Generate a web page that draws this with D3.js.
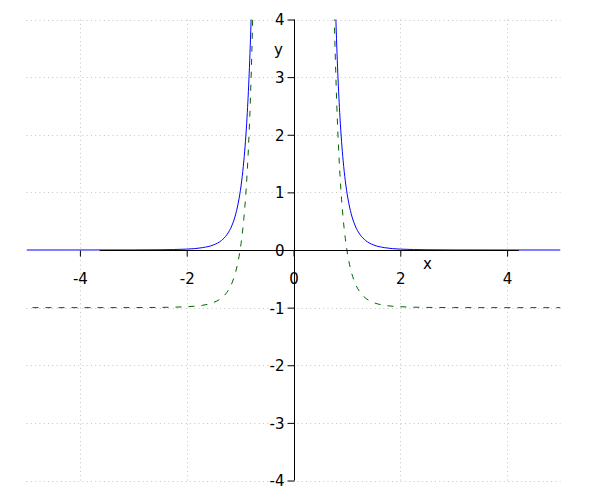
<!DOCTYPE html>
<html>
<head>
<meta charset="utf-8">
<script src="https://cdn.jsdelivr.net/npm/d3@7"></script>
<style>
  html, body { margin: 0; padding: 0; background: #fff; }
  svg { display: block; }
  text { font-family: "DejaVu Sans", sans-serif; font-size: 15px; fill: #000; }
</style>
</head>
<body>
<svg id="chart" width="600" height="500"></svg>
<script>
// ---- data ----
const xTicks = [-4, -2, 0, 2, 4];
const yTicks = [-4, -3, -2, -1, 0, 1, 2, 3, 4];
const xGrid = [-4, -2, 2, 4];
const yGrid = [-4, -3, -2, -1, 1, 2, 3, 4];

const blueLeftX  = [-5, -4, -3, -2.5, -2, -1.7, -1.5, -1.35, -1.25, -1.15, -1.08, -1.02, -0.97, -0.93, -0.9, -0.87, -0.85, -0.83, -0.81, -0.79, -0.78];
const blueLeftY  = [0, 0.0002, 0.0014, 0.0041, 0.0156, 0.0414, 0.0878, 0.165, 0.262, 0.432, 0.630, 0.888, 1.200, 1.546, 1.882, 2.306, 2.652, 3.059, 3.541, 4.114, 4.44];
const blueRightX = [0.78, 0.79, 0.81, 0.83, 0.85, 0.87, 0.9, 0.93, 0.97, 1.02, 1.08, 1.15, 1.25, 1.35, 1.5, 1.7, 2, 2.5, 3, 4, 5];
const blueRightY = [4.44, 4.114, 3.541, 3.059, 2.652, 2.306, 1.882, 1.546, 1.200, 0.888, 0.630, 0.432, 0.262, 0.165, 0.0878, 0.0414, 0.0156, 0.0041, 0.0014, 0.0002, 0];

const greenLeftX  = [-5, -4, -3, -2.5, -2, -1.7, -1.5, -1.35, -1.25, -1.15, -1.08, -1.02, -0.97, -0.93, -0.9, -0.87, -0.85, -0.83, -0.81, -0.79, -0.77, -0.76];
const greenLeftY  = [-1, -1, -0.999, -0.996, -0.984, -0.959, -0.912, -0.835, -0.738, -0.568, -0.370, -0.112, 0.200, 0.546, 0.882, 1.306, 1.652, 2.059, 2.541, 3.114, 3.80, 4.19];
const greenRightX = [0.76, 0.77, 0.79, 0.81, 0.83, 0.85, 0.87, 0.9, 0.93, 0.97, 1.02, 1.08, 1.15, 1.25, 1.35, 1.5, 1.7, 2, 2.5, 3, 4, 5];
const greenRightY = [4.19, 3.80, 3.114, 2.541, 2.059, 1.652, 1.306, 0.882, 0.546, 0.200, -0.112, -0.370, -0.568, -0.738, -0.835, -0.912, -0.959, -0.984, -0.996, -0.999, -1, -1];

const xAxisExtent = [-3.63, 4.22];

// ---- drawing ----
const svg = d3.select("#chart");
const x = d3.scaleLinear().domain([-5, 5]).range([26.5, 560.5]);
const y = d3.scaleLinear().domain([-4, 4]).range([480.5, 19.5]);

svg.append("defs").append("clipPath").attr("id", "clip")
  .append("rect").attr("x", x(-5)).attr("y", y(4))
  .attr("width", x(5) - x(-5)).attr("height", y(-4) - y(4));

// grid
const grid = svg.append("g").attr("stroke", "#c4c4c4").attr("stroke-width", 1)
  .attr("stroke-dasharray", "1,3.3").attr("fill", "none");
grid.selectAll("line.v").data(xGrid).join("line").attr("class", "v")
  .attr("x1", d => Math.round(x(d)) + 0.5).attr("x2", d => Math.round(x(d)) + 0.5)
  .attr("y1", y(4)).attr("y2", y(-4));
grid.selectAll("line.h").data(yGrid).join("line").attr("class", "h")
  .attr("y1", d => Math.round(y(d)) + 0.5).attr("y2", d => Math.round(y(d)) + 0.5)
  .attr("x1", x(-5)).attr("x2", x(5));

// curves
const line = d3.line().x(d => x(d[0])).y(d => y(d[1])).curve(d3.curveMonotoneX);
const zip = (a, b) => a.map((v, i) => [v, b[i]]);
const curves = svg.append("g").attr("clip-path", "url(#clip)").attr("fill", "none");

[[greenLeftX, greenLeftY], [greenRightX, greenRightY]].forEach(([xs, ys]) => {
  curves.append("path").attr("d", line(zip(xs, ys)))
    .attr("stroke", "#006400").attr("stroke-width", 1)
    .attr("stroke-dasharray", "6,7").attr("stroke-dashoffset", 7);
});
[[blueLeftX, blueLeftY], [blueRightX, blueRightY]].forEach(([xs, ys]) => {
  curves.append("path").attr("d", line(zip(xs, ys)))
    .attr("stroke", "#0000ff").attr("stroke-width", 1);
});

// axes
const fmt = d => String(d);
const x0 = Math.round(x(0)) + 0.5;
const y0 = Math.round(y(0)) + 0.5;

const xAxis = svg.append("g").attr("transform", `translate(0,${y0})`)
  .call(d3.axisBottom(x).tickValues(xTicks).tickSize(6).tickSizeOuter(0).tickFormat(fmt));
xAxis.select(".domain").remove();
xAxis.append("line").attr("x1", x(xAxisExtent[0])).attr("x2", x(xAxisExtent[1]))
  .attr("stroke", "#000").attr("stroke-width", 1);
xAxis.selectAll(".tick line").attr("stroke", "#000");
xAxis.selectAll(".tick text").attr("y", 33).attr("dy", 0)
  .style("font-family", "DejaVu Sans").style("font-size", "15px").attr("fill", "#000");

const yAxis = svg.append("g").attr("transform", `translate(${x0},0)`)
  .call(d3.axisLeft(y).tickValues(yTicks).tickSize(7).tickSizeOuter(0).tickFormat(fmt));
yAxis.select(".domain").remove();
yAxis.append("line").attr("y1", y(4)).attr("y2", y(-4))
  .attr("stroke", "#000").attr("stroke-width", 1);
yAxis.selectAll(".tick line").attr("stroke", "#000");
yAxis.selectAll(".tick text").attr("x", -10).attr("dy", "0.36em")
  .style("font-family", "DejaVu Sans").style("font-size", "15px").attr("fill", "#000");

// axis labels
svg.append("text").attr("x", 427.5).attr("y", 269).attr("text-anchor", "middle").text("x");
svg.append("text").attr("x", 278.5).attr("y", 55).attr("text-anchor", "middle").text("y");
</script>
</body>
</html>
